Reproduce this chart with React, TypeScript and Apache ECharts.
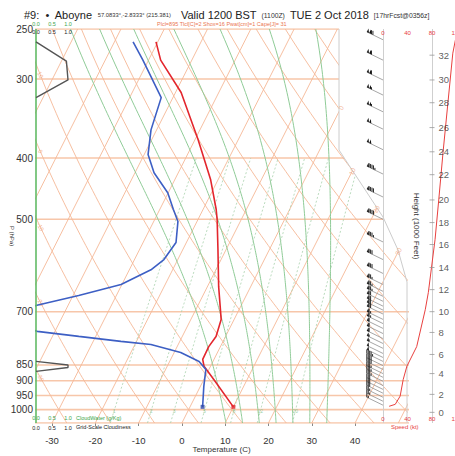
import React, { useEffect, useRef } from "react";
import * as echarts from "echarts";

// ---------- data ----------
const pressureTicks = [250, 300, 400, 500, 700, 850, 900, 950, 1000];
const isobarP = [250, 300, 400, 500, 700, 850, 900, 950, 1000, 1050];
const tempTicks = [-30, -20, -10, 0, 10, 20, 30, 40];
const isothermT = [-110, -100, -90, -80, -70, -60, -50, -40, -30, -20, -10, 0, 10, 20, 30, 40, 50];
const dryThetaC = [-40, -30, -20, -10, 0, 10, 20, 30, 40, 50, 60, 70, 80, 90, 100, 110, 120, 130, 140, 150, 160, 170];
const moistThetaW = [8, 12, 16, 20, 24, 28, 32];
const mixRatio = [1, 2, 3, 5, 8, 12, 20];
const isoLabelT = [0, 10, 20, 30];
const isoLabelP = [333, 420, 482, 562];
const dryLabelTheta = [10, 0, -10, -20, -30];

const tempP = [262, 280, 315, 374, 433, 482, 500, 558, 639, 720, 766, 795, 833, 854, 896, 990];
const tempC = [-50.4, -47.2, -38.7, -29.3, -21.7, -17.0, -15.6, -11.9, -7.4, -3.0, -2.2, -2.7, -2.6, -1.5, 2.3, 10.0];

const dewP = [262, 280, 321, 361, 395, 422, 454, 482, 504, 544, 579, 601, 634, 660, 684, 715, 752, 766, 780, 789, 812, 839, 864, 919, 990];
const dewC = [-55.7, -51.3, -42.7, -41.3, -39.1, -35.6, -30.1, -26.9, -24.4, -22.4, -23.2, -25.0, -30.2, -38.7, -47.2, -56.4, -44.1, -33.9, -23.6, -16.3, -8.5, -3.2, -0.7, 0.8, 2.9];

const cloudTopP = [262, 281, 301, 321];
const cloudTopF = [0, 0.95, 1.0, 0];
const cloudLowP = [839, 850, 858, 870];
const cloudLowF = [0, 1.0, 1.0, 0];

const speedP = [988, 981, 952, 896, 854, 795, 695, 653, 538, 466, 392, 327, 273, 258];
const speedKt = [10, 20, 28, 33, 39, 55, 69, 74, 85, 91, 98, 106, 114, 119];

const barbP = [260, 280, 301, 318, 338, 360, 388, 424, 461, 500, 543, 579, 609, 634, 650, 662, 674, 686, 696, 706, 720, 731, 744, 758, 772, 786, 800, 815, 827, 839, 852, 864, 877, 889, 902, 916, 929, 942, 956, 970, 984];
const barbKt = [118, 112, 109, 107, 105, 102, 98, 95, 91, 88, 85, 82, 79, 76, 74, 73, 72, 70, 69, 68, 66, 64, 62, 61, 59, 57, 54, 51, 48, 45, 40, 38, 37, 35, 33, 32, 31, 29, 27, 24, 15];
const barbDir = [296, 296, 296, 296, 296, 296, 296, 296, 296, 296, 296, 296, 296, 296, 296, 296, 296, 296, 296, 296, 296, 296, 296, 296, 296, 296, 296, 296, 296, 296, 296, 296, 296, 296, 296, 296, 296, 296, 296, 296, 296];

const heightFt = [0, 2, 4, 6, 8, 10, 12, 14, 16, 18, 20, 22, 24, 26, 28, 30, 32];
const heightP = [1010, 946, 877, 818, 755, 700, 646, 596, 548, 506, 466, 425, 391, 358, 327, 301, 275];

// ---------- geometry helpers ----------
const SKEW = 32;
const P_REF = 1050;
const KAPPA = 0.2857;
const X_MIN = -33.7;
const X_MAX = 52.0;
const MIX_LABEL_P = 1005;
const LP = (p: number) => Math.log(p);
const skewX = (t: number, p: number) => t + SKEW * Math.log(P_REF / p);

const pLevels: number[] = [];
for (let p = 1050; p >= 250; p -= 10) pLevels.push(p);

function lapse(tK: number, p: number) {
  const Rd = 287.04, cp = 1005.7, Lv = 2.501e6, eps = 0.622;
  const tc = tK - 273.15;
  const es = 6.112 * Math.exp((17.67 * tc) / (tc + 243.5));
  const rs = (eps * es) / (p - es);
  return ((1 / p) * (Rd * tK + Lv * rs)) / (cp + (Lv * Lv * rs * eps) / (Rd * tK * tK));
}

function moistLine(thetaW: number) {
  const t0 = thetaW + 273.15;
  const below: [number, number][] = [];
  let t = t0, p = 1000;
  while (p < 1050) {
    const dp = Math.min(5, 1050 - p);
    const k1 = lapse(t, p);
    const k2 = lapse(t + (k1 * dp) / 2, p + dp / 2);
    t += k2 * dp; p += dp;
    below.push([p, t]);
  }
  const above: [number, number][] = [];
  t = t0; p = 1000;
  while (p > 250) {
    const dp = -5;
    const k1 = lapse(t, p);
    const k2 = lapse(t + (k1 * dp) / 2, p + dp / 2);
    t += k2 * dp; p += dp;
    above.push([p, t]);
  }
  const all = [...below.reverse(), [1000, t0] as [number, number], ...above];
  return all.map(([pp, tk]) => [skewX(tk - 273.15, pp), LP(pp)]);
}

const tdFromW = (w: number, p: number) => {
  const e = (w * p) / (622 + w);
  const a = Math.log(e / 6.112);
  return (243.5 * a) / (17.67 - a);
};

const dryT = (thetaC: number, p: number) => (thetaC + 273.15) * Math.pow(p / 1000, KAPPA) - 273.15;

function dryLabelP(thetaC: number, xEdge: number) {
  let lo = 250, hi = 1050;
  for (let i = 0; i < 40; i++) {
    const mid = (lo + hi) / 2;
    const f = skewX(dryT(thetaC, mid), mid) - xEdge;
    if (f > 0) hi = mid; else lo = mid;
  }
  return (lo + hi) / 2;
}

const FONT = "Liberation Sans, Arial, sans-serif";
const ORANGE = "#f5b896";
const ISOBAR = "#f7c6a9";
const GREEN = "#8fcb97";

function lineS(data: any[], color: string, width: number, z: number, extra: any = {}) {
  return {
    type: "line", xAxisIndex: 0, yAxisIndex: 0, data, showSymbol: false, symbol: "none",
    silent: true, z, animation: false, lineStyle: { color, width, type: "solid" }, ...extra,
  };
}

function buildOption() {
  const yMin = LP(250), yMax = LP(1050);
  const series: any[] = [];

  isobarP.forEach((p) => series.push(lineS([[-60, LP(p)], [80, LP(p)]], ISOBAR, 1.6, 1)));
  isothermT.forEach((t) =>
    series.push(lineS([[skewX(t, 1050), LP(1050)], [skewX(t, 250), LP(250)]], ORANGE, 0.9, 1)));
  dryThetaC.forEach((th) =>
    series.push(lineS(pLevels.map((p) => [skewX(dryT(th, p), p), LP(p)]), ORANGE, 0.9, 1)));
  moistThetaW.forEach((tw) => series.push(lineS(moistLine(tw), GREEN, 1, 1)));
  mixRatio.forEach((w) =>
    series.push(lineS(pLevels.filter((p) => p >= 400).map((p) => [skewX(tdFromW(w, p), p), LP(p)]),
      "#a9d2ad", 0.8, 1, { lineStyle: { color: "#a9d2ad", width: 0.8, type: [2, 2] } })));

  // lattice labels
  series.push({
    type: "scatter", xAxisIndex: 0, yAxisIndex: 0, silent: true, z: 4, symbolSize: 0,
    data: isoLabelT.map((t, i) => [skewX(t, isoLabelP[i]), LP(isoLabelP[i]), t]),
    label: { show: true, position: "inside", rotate: 63, fontSize: 6.5, color: "#efa37c",
      formatter: (d: any) => String(d.value[2]) },
  });
  const dryEdge = X_MIN + 1.0;
  series.push({
    type: "scatter", xAxisIndex: 0, yAxisIndex: 0, silent: true, z: 4, symbolSize: 0,
    data: dryLabelTheta.map((th) => { const p = dryLabelP(th, dryEdge); return [dryEdge, LP(p), th]; }),
    label: { show: true, position: "inside", rotate: -60, fontSize: 6, color: "#efa37c",
      formatter: (d: any) => String(d.value[2]) },
  });
  series.push({
    type: "scatter", xAxisIndex: 0, yAxisIndex: 0, silent: true, z: 4, symbolSize: 0,
    data: mixRatio.map((w) => [skewX(tdFromW(w, MIX_LABEL_P), MIX_LABEL_P), LP(MIX_LABEL_P), w]),
    label: { show: true, position: "inside", fontSize: 5, color: "#86c28c",
      formatter: (d: any) => String(d.value[2]) },
  });

  // sounding
  series.push(lineS(tempP.map((p, i) => [skewX(tempC[i], p), LP(p)]), "#e3262d", 1.6, 5));
  series.push(lineS(dewP.map((p, i) => [skewX(dewC[i], p), LP(p)]), "#3d5fc4", 1.6, 5));
  series.push({
    type: "scatter", xAxisIndex: 0, yAxisIndex: 0, silent: true, z: 6, symbol: "rect", symbolSize: 4,
    data: [
      { value: [skewX(tempC[tempC.length - 1], tempP[tempP.length - 1]), LP(tempP[tempP.length - 1])], itemStyle: { color: "#e3262d" } },
      { value: [skewX(dewC[dewC.length - 1], dewP[dewP.length - 1]), LP(dewP[dewP.length - 1])], itemStyle: { color: "#2d46a8" } },
    ],
  });

  // cloud panel (grid 2)
  series.push({ ...lineS([[0, yMin], [0, yMax]], "#62bb66", 1.6, 5), xAxisIndex: 3, yAxisIndex: 2 });
  series.push({ ...lineS(cloudTopP.map((p, i) => [cloudTopF[i], LP(p)]), "#555", 1.4, 5), xAxisIndex: 3, yAxisIndex: 2 });
  series.push({ ...lineS(cloudLowP.map((p, i) => [cloudLowF[i], LP(p)]), "#555", 1.4, 5), xAxisIndex: 3, yAxisIndex: 2 });

  // speed panel (grid 1)
  series.push({
    ...lineS(speedP.map((p, i) => [speedKt[i], LP(p)]), "#e8403f", 1, 6),
    xAxisIndex: 1, yAxisIndex: 1,
    markLine: {
      silent: true, symbol: ["none", "none"], label: { show: false },
      lineStyle: { color: "#cfcfcf", width: 1, type: "solid" },
      data: [{ xAxis: 0 }, { xAxis: 80 }],
    },
  });
  series.push({
    type: "scatter", xAxisIndex: 1, yAxisIndex: 1, silent: true, z: 6, symbol: "rect", symbolSize: [5, 1],
    itemStyle: { color: "#999" },
    data: heightP.map((p, i) => [80, LP(p), heightFt[i]]),
    label: { show: true, position: "right", distance: 4, fontSize: 9.5, color: "#333", fontFamily: FONT,
      formatter: (d: any) => String(d.value[2]) },
  });
  series.push({
    type: "custom", xAxisIndex: 1, yAxisIndex: 1, z: 8, silent: true, clip: false,
    data: barbP.map((p, i) => [0, LP(p), barbKt[i], barbDir[i]]),
    encode: { x: 0, y: 1 },
    renderItem: (params: any, api: any) => {
      const base = api.coord([api.value(0), api.value(1)]);
      const spd = api.value(2);
      const dir = (api.value(3) * Math.PI) / 180;
      const ux = Math.sin(dir), uy = -Math.cos(dir);
      const L = 18;
      const tip = [base[0] + ux * L, base[1] + uy * L];
      const px = -uy, py = ux;
      const fx = px * 0.9 + ux * 0.44, fy = py * 0.9 + uy * 0.44;
      const children: any[] = [
        { type: "line", shape: { x1: base[0], y1: base[1], x2: tip[0], y2: tip[1] }, style: { stroke: "#8f8f8f", lineWidth: 0.8 } },
      ];
      let rem = Math.round(spd / 5) * 5;
      let pos = 0;
      const at = (d: number) => [tip[0] - ux * d, tip[1] - uy * d];
      while (rem >= 50) {
        const a = at(pos), c = at(pos + 2.4);
        children.push({ type: "polygon", shape: { points: [a, [a[0] + px * 3.8, a[1] + py * 3.8], c] }, style: { fill: "#111" } });
        pos += 2.6; rem -= 50;
      }
      while (rem >= 10) {
        const a = at(pos);
        children.push({ type: "line", shape: { x1: a[0], y1: a[1], x2: a[0] + fx * 4, y2: a[1] + fy * 4 }, style: { stroke: "#111", lineWidth: 0.9 } });
        pos += 1.6; rem -= 10;
      }
      if (rem >= 5) {
        if (pos === 0) pos = 1.6;
        const a = at(pos);
        children.push({ type: "line", shape: { x1: a[0], y1: a[1], x2: a[0] + fx * 2.2, y2: a[1] + fy * 2.2 }, style: { stroke: "#111", lineWidth: 0.9 } });
      }
      return { type: "group", children };
    },
  });

  const hiddenY = (gi: number) => ({
    type: "value", gridIndex: gi, min: yMin, max: yMax, inverse: true, show: false, splitLine: { show: false },
  });
  const cloudAxis = (position: string, inside: boolean, color: string, margin: number) => ({
    type: "value", gridIndex: 2, position, min: 0, max: 1, interval: 0.5, z: 10,
    axisLine: { show: false }, axisTick: { show: false }, splitLine: { show: false },
    axisLabel: { inside, color, fontSize: 5.5, margin, fontFamily: FONT, formatter: (v: number) => v.toFixed(1) },
  });
  const speedAxis = (position: string, extra: any = {}) => ({
    type: "value", gridIndex: 1, position, min: 0, max: 120, interval: 40, z: 10,
    axisLine: { show: false }, axisTick: { show: false }, splitLine: { show: false },
    axisLabel: { inside: true, color: "#e8403f", fontSize: 6, margin: 1, fontFamily: FONT },
    ...extra,
  });
  const gridBase = { outerBoundsMode: "none", containLabel: false, top: 29, height: 394 };

  return {
    animation: false,
    backgroundColor: "#fff",
    textStyle: { fontFamily: FONT },
    title: [
      {
        left: 24, top: 6, padding: 0,
        text: "{b|#9:  •  Aboyne} {s|57.0833°,-2.8333° (215.381)}{g|}{b|Valid 1200 BST} {m|(1100Z)} {b|TUE 2 Oct 2018} {m|[17hrFcst@0356z]}",
        textStyle: {
          fontFamily: FONT,
          rich: {
            b: { fontSize: 11, color: "#222", fontFamily: FONT, fontWeight: "normal" },
            s: { fontSize: 5.8, color: "#333", fontFamily: FONT, fontWeight: "normal" },
            m: { fontSize: 6.8, color: "#333", fontFamily: FONT, fontWeight: "normal" },
            g: { width: 10 },
          },
        },
      },
      {
        left: 157, top: 21, padding: 0,
        text: "Plcl=895 Tlcl[C]=2 Shox=16 Pwat[cm]=1 Cape[J]= 31",
        textStyle: { fontSize: 5.5, color: "#ea7651", fontWeight: "normal", fontFamily: FONT },
      },
    ],
    grid: [
      { ...gridBase, left: 36, width: 371 },
      { ...gridBase, left: 383, width: 73.5 },
      { ...gridBase, left: 36, width: 32 },
    ],
    xAxis: [
      {
        type: "value", gridIndex: 0, position: "bottom", min: X_MIN, max: X_MAX,
        axisLine: { show: false }, splitLine: { show: false },
        axisTick: { show: true, customValues: tempTicks, length: 3, lineStyle: { color: "#888" } },
        axisLabel: { customValues: tempTicks, margin: 12, fontSize: 9.5, color: "#333", fontFamily: FONT },
        name: "Temperature (C)", nameLocation: "middle", nameGap: 22.5, nameMoveOverlap: false,
        nameTextStyle: { fontSize: 8, color: "#333", fontFamily: FONT },
      },
      speedAxis("bottom", {
        name: "Speed (kt)", nameLocation: "middle", nameGap: 1, nameMoveOverlap: false,
        nameTextStyle: { color: "#e8403f", fontSize: 6, fontFamily: FONT, padding: [0, 30, 0, 0] },
      }),
      speedAxis("top"),
      cloudAxis("top", false, "#3aa54a", 2),
      cloudAxis("top", true, "#222", 0),
      cloudAxis("bottom", true, "#3aa54a", 2),
      cloudAxis("bottom", false, "#222", 2),
    ],
    yAxis: [
      {
        type: "value", gridIndex: 0, min: yMin, max: yMax, inverse: true,
        axisLine: { show: false }, axisTick: { show: false }, splitLine: { show: false },
        axisLabel: {
          customValues: pressureTicks.map(LP), margin: 3, fontSize: 10, color: "#333", fontFamily: FONT,
          formatter: (v: number) => String(Math.round(Math.exp(v))),
        },
      },
      hiddenY(1),
      hiddenY(2),
    ],
    graphic: [
      {
        type: "polygon", silent: true, z: 2,
        shape: { points: [[339, 27], [409, 27], [409, 282], [398, 250], [383, 217], [339, 150]] },
        style: { fill: "#ffffff" },
      },
      {
        type: "polyline", silent: true, z: 3,
        shape: { points: [[339, 29], [339, 150], [383, 217], [398, 250], [407, 282], [407, 423]] },
        style: { stroke: "#cccccc", lineWidth: 1, fill: null },
      },
      {
        type: "text", silent: true, z: 9, x: 416, y: 226, rotation: -Math.PI / 2,
        style: { text: "Height (1000 Feet)", fontSize: 8, fill: "#333", align: "center", verticalAlign: "middle", fontFamily: FONT },
      },
      {
        type: "text", silent: true, z: 9, x: 12, y: 236, rotation: -Math.PI / 2,
        style: { text: "P (hPa)", fontSize: 6, fill: "#333", align: "center", verticalAlign: "middle", fontFamily: FONT },
      },
      {
        type: "text", silent: true, z: 9, x: 76, y: 418,
        style: { text: "CloudWater (g/Kg)", fontSize: 5.5, fill: "#3aa54a", align: "left", verticalAlign: "middle", fontFamily: FONT },
      },
      {
        type: "text", silent: true, z: 9, x: 76, y: 427,
        style: { text: "Grid-Scale Cloudiness", fontSize: 5.5, fill: "#222", align: "left", verticalAlign: "middle", fontFamily: FONT },
      },
    ],
    series,
  };
}

export default function App() {
  const ref = useRef<HTMLDivElement>(null);
  useEffect(() => {
    const chart = echarts.init(ref.current as HTMLDivElement, null, { renderer: "svg" });
    chart.setOption(buildOption() as any);
    return () => chart.dispose();
  }, []);
  return (
    <div
      ref={ref}
      style={{ position: "fixed", left: 0, top: 0, width: 455, height: 456, background: "#fff" }}
    />
  );
}
